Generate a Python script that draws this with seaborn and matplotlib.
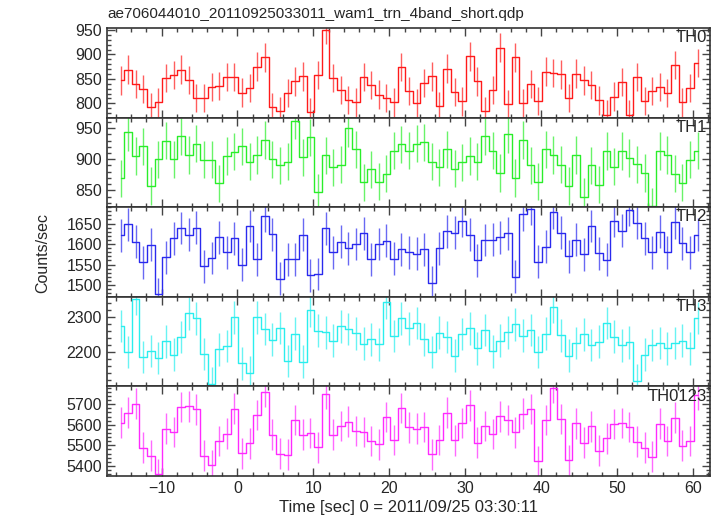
import numpy as np
import matplotlib
matplotlib.use("Agg")
import matplotlib.pyplot as plt
from matplotlib.ticker import MultipleLocator
import seaborn as sns

# time bins (1 s) starting at -15.4 s
t0 = -15.4
nbins = 77

th0 = [847, 869, 839, 829, 792, 802, 852, 858, 869, 848, 811, 811, 833, 835, 854, 854,
       822, 831, 875, 894, 793, 785, 821, 845, 855, 782, 858, 950, 852, 827, 807, 802,
       854, 837, 818, 811, 802, 874, 825, 800, 841, 855, 794, 871, 823, 804, 896, 845,
       785, 827, 914, 799, 894, 800, 839, 805, 865, 862, 859, 811, 861, 847, 838, 806,
       777, 814, 844, 777, 854, 805, 825, 833, 821, 879, 802, 831, 882]
th1 = [869, 943, 905, 921, 857, 900, 930, 900, 937, 907, 925, 899, 899, 861, 905, 912,
       921, 896, 907, 931, 900, 890, 896, 962, 903, 935, 847, 906, 887, 891, 950, 916,
       863, 884, 864, 877, 914, 924, 914, 925, 927, 896, 887, 916, 885, 895, 905, 896,
       937, 914, 878, 940, 870, 931, 890, 864, 916, 907, 891, 857, 907, 839, 890, 859,
       913, 888, 913, 902, 892, 878, 824, 913, 907, 877, 862, 899, 914]
th2 = [1621, 1648, 1606, 1556, 1598, 1478, 1568, 1614, 1639, 1623, 1640, 1546, 1566, 1617,
       1580, 1614, 1550, 1644, 1563, 1669, 1624, 1516, 1563, 1563, 1623, 1524, 1527, 1638,
       1580, 1606, 1590, 1600, 1626, 1563, 1600, 1608, 1564, 1587, 1580, 1576, 1587, 1506,
       1590, 1631, 1628, 1657, 1623, 1560, 1610, 1611, 1617, 1626, 1520, 1672, 1686, 1557,
       1594, 1677, 1628, 1570, 1611, 1575, 1644, 1578, 1562, 1656, 1632, 1684, 1652, 1614,
       1580, 1630, 1580, 1653, 1602, 1580, 1623]
th3 = [2275, 2200, 2352, 2186, 2203, 2183, 2231, 2192, 2243, 2311, 2297, 2194, 2109, 2208,
       2217, 2300, 2168, 2141, 2300, 2266, 2235, 2269, 2174, 2253, 2172, 2320, 2261, 2257,
       2232, 2274, 2266, 2254, 2224, 2237, 2222, 2343, 2246, 2297, 2268, 2283, 2237, 2200,
       2255, 2243, 2189, 2252, 2268, 2211, 2263, 2202, 2232, 2257, 2280, 2247, 2263, 2200,
       2253, 2330, 2248, 2190, 2226, 2251, 2220, 2230, 2283, 2244, 2219, 2228, 2118, 2192,
       2220, 2226, 2211, 2226, 2233, 2211, 2298]
th0123 = [5610, 5659, 5702, 5488, 5449, 5359, 5581, 5565, 5687, 5690, 5676, 5449, 5403, 5521,
          5557, 5679, 5462, 5509, 5648, 5760, 5552, 5459, 5454, 5623, 5552, 5560, 5491, 5751,
          5552, 5594, 5614, 5570, 5565, 5521, 5504, 5638, 5526, 5682, 5588, 5581, 5589, 5457,
          5526, 5659, 5524, 5609, 5695, 5512, 5594, 5555, 5641, 5623, 5563, 5653, 5677, 5423,
          5623, 5780, 5628, 5428, 5607, 5512, 5592, 5473, 5535, 5604, 5609, 5589, 5517, 5488,
          5444, 5605, 5521, 5635, 5498, 5521, 5746]

series = [th0, th1, th2, th3, th0123]
names = ["TH0", "TH1", "TH2", "TH3", "TH0123"]
errors = [29, 30, 40, 47, 75]
colors = ["#ff1a1a", "#2aee2a", "#2a2aee", "#2aeeee", "#ff2aff"]
ylims = [(771, 954), (823, 967), (1472, 1690), (2102, 2359), (5352, 5788)]
yticks = [[800, 850, 900, 950], [850, 900, 950], [1500, 1550, 1600, 1650],
          [2200, 2300], [5400, 5500, 5600, 5700]]
yminor = [10, 10, 10, 20, 20]

t = t0 + np.arange(nbins)

sns.set_style("ticks")
plt.rcParams["font.family"] = ["Liberation Sans", "DejaVu Sans"]

fig, axes = plt.subplots(5, 1, figsize=(7.17, 5.16), dpi=100, sharex=True)
fig.subplots_adjust(left=0.149, right=0.990, top=0.9457, bottom=0.0781, hspace=0)

for i, ax in enumerate(axes):
    vals = np.array(series[i])
    sns.lineplot(x=t, y=vals, ax=ax, color=colors[i], lw=1.0,
                 drawstyle="steps-mid", estimator=None)
    ax.errorbar(t, vals, yerr=errors[i], fmt="none", ecolor=colors[i],
                elinewidth=1.0, alpha=0.7)
    ax.set_ylim(*ylims[i])
    ax.set_xlim(-17.2, 62.2)
    ax.set_yticks(yticks[i])
    ax.yaxis.set_minor_locator(MultipleLocator(yminor[i]))
    ax.xaxis.set_major_locator(MultipleLocator(10))
    ax.xaxis.set_minor_locator(MultipleLocator(2))
    ax.tick_params(which="both", direction="in", top=True, right=True,
                   color="#444444", labelsize=11.5)
    ax.tick_params(which="major", length=6, width=1)
    ax.tick_params(which="minor", length=3, width=1)
    for sp in ax.spines.values():
        sp.set_linewidth(1.2)
        sp.set_color("#333333")
    ax.text(0.995, 0.89, names[i], transform=ax.transAxes, ha="right", va="center",
            fontsize=12)
    ax.set_ylabel("")

fig.text(107 / 717, 1 - 14 / 516, "ae706044010_20110925033011_wam1_trn_4band_short.qdp",
         ha="left", va="center", fontsize=11)
axes[-1].set_xlabel("Time [sec] 0 = 2011/09/25 03:30:11", fontsize=12, labelpad=3)
fig.text(0.060, 0.51, "Counts/sec", rotation=90, ha="center", va="center", fontsize=11.5)

fig.savefig("out.png", dpi=100)
